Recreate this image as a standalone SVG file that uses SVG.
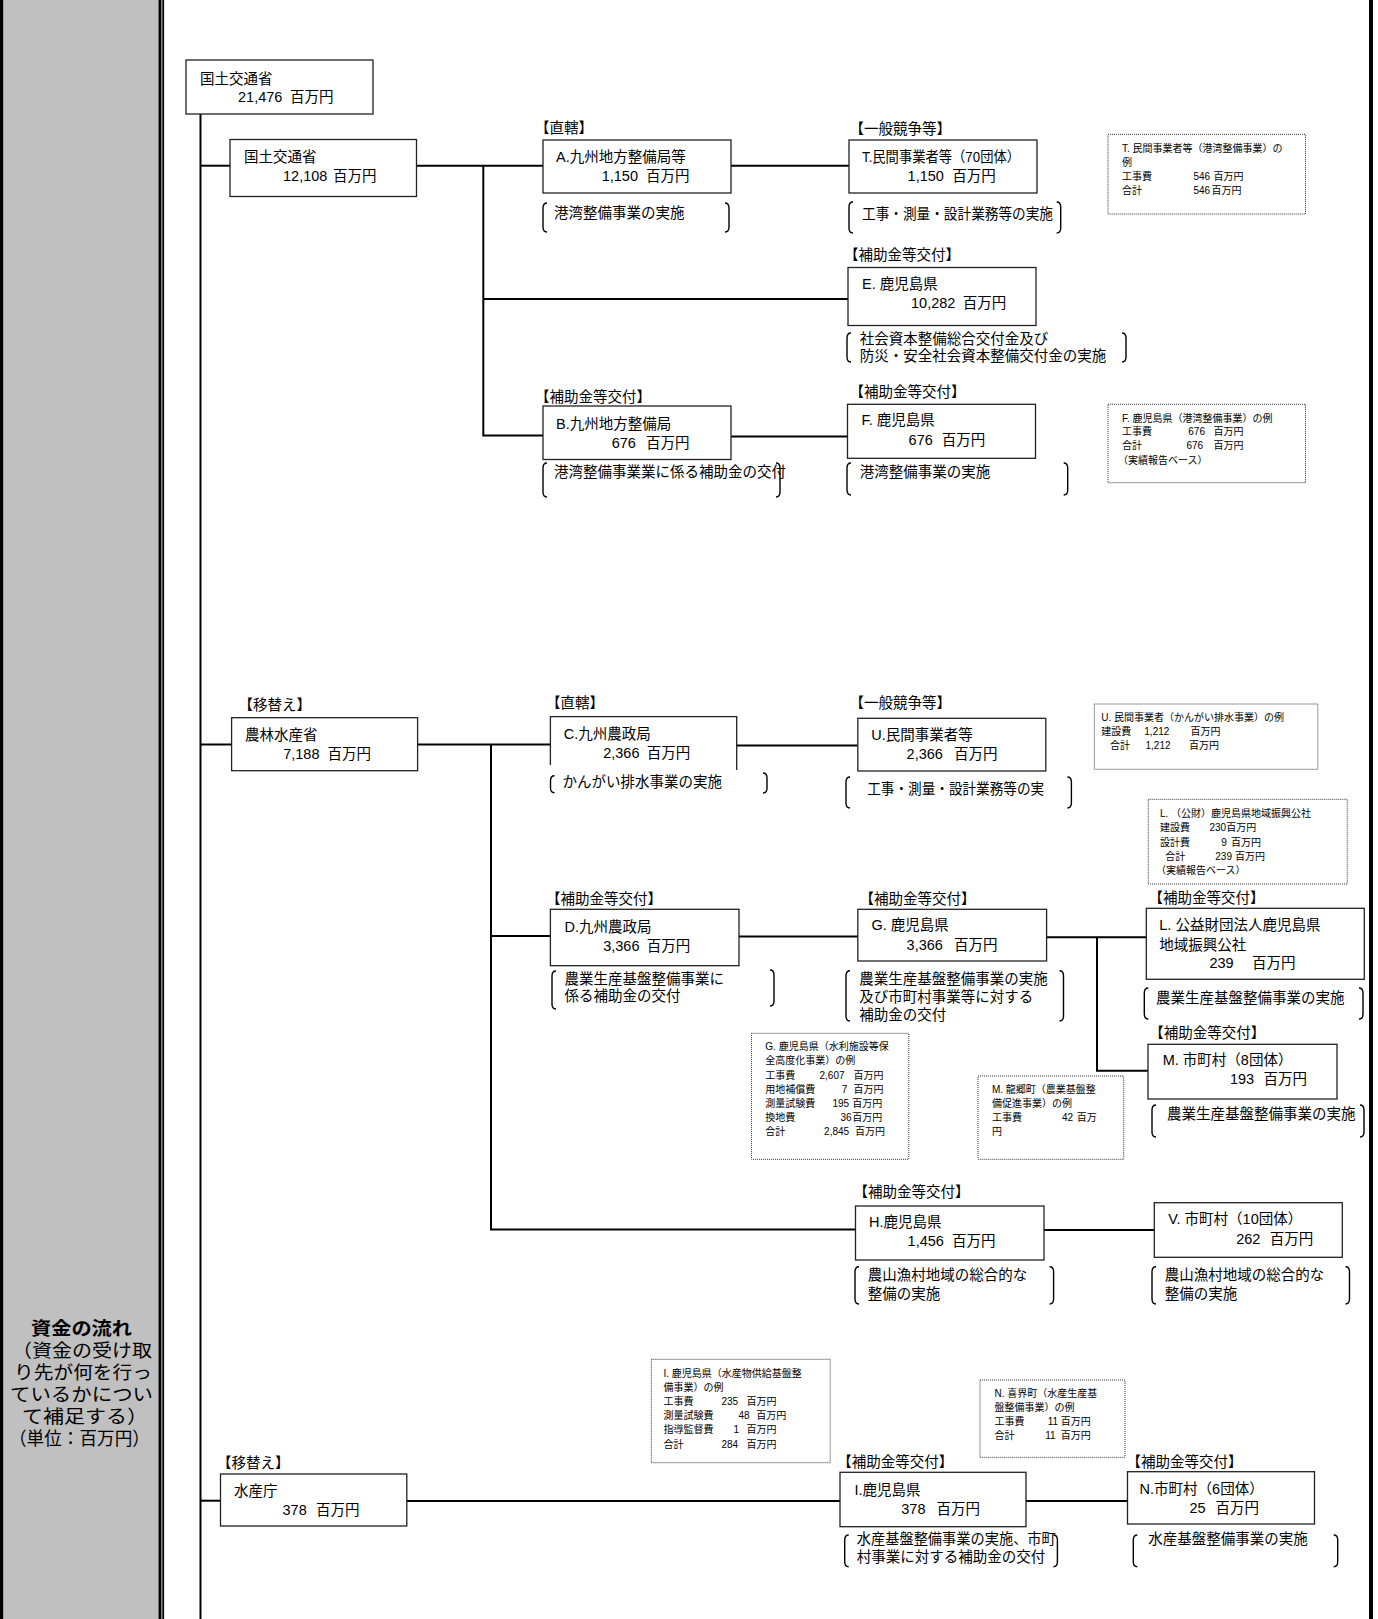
<svg xmlns="http://www.w3.org/2000/svg" width="1378" height="1619" viewBox="0 0 1378 1619">
<style>
text { font-family: "Liberation Sans", "Noto Sans CJK JP", sans-serif; fill: #000; }
.t { font-size: 14.5px; }
.l { font-size: 14.5px; }
.s { font-size: 10px; }
.p { font-size: 18.5px; }
.pb { font-size: 18.5px; font-weight: bold; }
.n { fill: #fff; stroke: #222; stroke-width: 1.3; }
.o { fill: none; stroke: #222; stroke-width: 1.3; }
.d { fill: #fff; stroke: #333; stroke-width: 1; stroke-dasharray: 1 1; }
.c { fill: none; stroke: #000; stroke-width: 2; }
.b { fill: none; stroke: #000; stroke-width: 1.4; }
</style>

<g id="side-panel">
<rect x="0" y="0" width="3.5" height="1619" fill="#000"/>
<rect x="3.5" y="0" width="155" height="1619" fill="#c0c0c0"/>
<rect x="158.5" y="0" width="3" height="1619" fill="#000"/>
<rect x="162.3" y="0" width="1.8" height="1619" fill="#000"/>
<text class="pb" x="31" y="1335" textLength="101" lengthAdjust="spacingAndGlyphs">資金の流れ</text>
<text class="p" x="12" y="1356.5" textLength="140" lengthAdjust="spacingAndGlyphs">（資金の受け取</text>
<text class="p" x="14" y="1378.5" textLength="138" lengthAdjust="spacingAndGlyphs">り先が何を行っ</text>
<text class="p" x="10" y="1401" textLength="143" lengthAdjust="spacingAndGlyphs">ているかについ</text>
<text class="p" x="22" y="1422.5" textLength="126" lengthAdjust="spacingAndGlyphs">て補足する）</text>
<text class="p" x="9" y="1444.5" textLength="141" lengthAdjust="spacingAndGlyphs">（単位：百万円）</text>
</g>
<rect id="right-border" x="1369" y="0" width="4" height="1619" fill="#000"/>

<g id="connectors">
<path class="c" d="M200.5,113 V1619"/>
<path class="c" d="M200.5,165.7 H230"/>
<path class="c" d="M416.5,165.7 H543"/>
<path class="c" d="M483.3,165.7 V435.5 H543"/>
<path class="c" d="M483.3,299 H848"/>
<path class="c" d="M731,165.7 H849"/>
<path class="c" d="M731,436.5 H847.5"/>
<path class="c" d="M200.5,744.5 H231.6"/>
<path class="c" d="M417.6,744.5 H550.4"/>
<path class="c" d="M491,744.5 V1229.5 H855.5"/>
<path class="c" d="M491,936 H550.4"/>
<path class="c" d="M736.7,745.5 H857.8"/>
<path class="c" d="M739,936.5 H857.8"/>
<path class="c" d="M1046.6,937.3 H1146.3"/>
<path class="c" d="M1097,937.3 V1070.7 H1148"/>
<path class="c" d="M1044,1230 H1154.3"/>
<path class="c" d="M200.5,1500.7 H220.5"/>
<path class="c" d="M406.8,1501 H840"/>
<path class="c" d="M1026,1501 H1127.5"/>
</g>

<g id="node-mlit-total">
<rect class="n" x="186" y="60" width="187" height="54"/>
<text class="t" x="200" y="84">国土交通省</text>
<text class="t" y="102"><tspan x="238">21,476</tspan><tspan x="290">百万円</tspan></text>
</g>

<g id="node-mlit">
<rect class="n" x="230" y="139.5" width="186.5" height="57"/>
<text class="t" x="244" y="162">国土交通省</text>
<text class="t" y="180.5"><tspan x="283">12,108</tspan><tspan x="333">百万円</tspan></text>
</g>

<g id="node-A">
<text class="l" x="535" y="133">【直轄】</text>
<rect class="n" x="543" y="140" width="188" height="53"/>
<text class="t" x="556" y="161.5">A.九州地方整備局等</text>
<text class="t" y="181"><tspan x="601.7">1,150</tspan><tspan x="646">百万円</tspan></text>
<path class="b" d="M547,203 Q543,203 543,208 V227 Q543,232 547,232"/>
<path class="b" d="M725,203 Q729,203 729,208 V227 Q729,232 725,232"/>
<text class="t" x="554" y="217.5">港湾整備事業の実施</text>
</g>

<g id="node-T">
<text class="l" x="849.5" y="133.5">【一般競争等】</text>
<rect class="n" x="849" y="140" width="188" height="53"/>
<text class="t" x="862" y="161.5" textLength="158" lengthAdjust="spacingAndGlyphs">T.民間事業者等（70団体）</text>
<text class="t" y="181"><tspan x="907.6">1,150</tspan><tspan x="952.3">百万円</tspan></text>
<path class="b" d="M853,202 Q849,202 849,207 V228 Q849,233 853,233"/>
<path class="b" d="M1056.7,202 Q1060.7,202 1060.7,207 V228 Q1060.7,233 1056.7,233"/>
<text class="t" x="862" y="218.5" textLength="191" lengthAdjust="spacingAndGlyphs">工事・測量・設計業務等の実施</text>
</g>

<g id="note-T">
<rect class="d" x="1108" y="134.3" width="197.5" height="79.7"/>
<text class="s" x="1122" y="151.7">T. 民間事業者等（港湾整備事業）の</text>
<text class="s" x="1122" y="165.7">例</text>
<text class="s" y="180"><tspan x="1122">工事費</tspan><tspan x="1193.5">546</tspan><tspan x="1213.4">百万円</tspan></text>
<text class="s" y="194"><tspan x="1122">合計</tspan><tspan x="1193.5">546</tspan><tspan x="1211.5">百万円</tspan></text>
</g>

<g id="node-E">
<text class="l" x="844" y="260">【補助金等交付】</text>
<rect class="n" x="848" y="267.5" width="188" height="58"/>
<text class="t" x="862" y="288.5">E. 鹿児島県</text>
<text class="t" y="307.5"><tspan x="911">10,282</tspan><tspan x="962.8">百万円</tspan></text>
<path class="b" d="M851,333 Q847,333 847,338 V357 Q847,362 851,362"/>
<path class="b" d="M1122,333 Q1126,333 1126,338 V357 Q1126,362 1122,362"/>
<text class="t" x="859.7" y="344">社会資本整備総合交付金及び</text>
<text class="t" x="859.7" y="361">防災・安全社会資本整備交付金の実施</text>
</g>

<g id="node-B">
<text class="l" x="535" y="402">【補助金等交付】</text>
<rect class="n" x="543" y="406" width="188" height="53.5"/>
<text class="t" x="556" y="428.5">B.九州地方整備局</text>
<text class="t" y="448"><tspan x="611.7">676</tspan><tspan x="646">百万円</tspan></text>
<path class="b" d="M547,463 Q543,463 543,468 V492 Q543,497 547,497"/>
<path class="b" d="M776,463 Q780,463 780,468 V492 Q780,497 776,497"/>
<text class="t" x="554" y="477">港湾整備事業業に係る補助金の交付</text>
</g>

<g id="node-F">
<text class="l" x="849.5" y="397">【補助金等交付】</text>
<rect class="n" x="847.5" y="404.3" width="188" height="54"/>
<text class="t" x="861.5" y="425">F. 鹿児島県</text>
<text class="t" y="445"><tspan x="908.6">676</tspan><tspan x="941.8">百万円</tspan></text>
<path class="b" d="M851,463 Q847,463 847,468 V490 Q847,495 851,495"/>
<path class="b" d="M1063.7,463 Q1067.7,463 1067.7,468 V490 Q1067.7,495 1063.7,495"/>
<text class="t" x="859.7" y="477">港湾整備事業の実施</text>
</g>

<g id="note-F">
<rect class="d" x="1108" y="404.3" width="197.5" height="78.4"/>
<text class="s" x="1122" y="421.7">F. 鹿児島県（港湾整備事業）の例</text>
<text class="s" y="435"><tspan x="1122">工事費</tspan><tspan x="1188.3">676</tspan><tspan x="1213.4">百万円</tspan></text>
<text class="s" y="449.3"><tspan x="1122">合計</tspan><tspan x="1186.5">676</tspan><tspan x="1213.4">百万円</tspan></text>
<text class="s" x="1118" y="464.3">（実績報告ベース）</text>
</g>

<g id="node-maff">
<text class="l" x="238.4" y="710">【移替え】</text>
<rect class="n" x="231.6" y="717.7" width="186" height="53"/>
<text class="t" x="245" y="740">農林水産省</text>
<text class="t" y="759"><tspan x="283.2">7,188</tspan><tspan x="327.6">百万円</tspan></text>
</g>

<g id="node-C">
<text class="l" x="546" y="708.3">【直轄】</text>
<rect x="550.4" y="716.7" width="186.3" height="54" fill="#fff"/>
<path class="o" d="M550.4,765 V716.7 H736.7 V770"/>
<text class="t" x="563.7" y="738.5">C.九州農政局</text>
<text class="t" y="757.5"><tspan x="603.2">2,366</tspan><tspan x="646.8">百万円</tspan></text>
<path class="b" d="M554.5,775.7 Q550.5,775.7 550.5,780.7 V787.7 Q550.5,792.7 554.5,792.7"/>
<path class="b" d="M763,773 Q767,773 767,778 V788 Q767,793 763,793"/>
<text class="t" x="562.6" y="787">かんがい排水事業の実施</text>
</g>

<g id="node-U">
<text class="l" x="849.6" y="708.3">【一般競争等】</text>
<rect class="n" x="857.8" y="718.3" width="188" height="52.7"/>
<text class="t" x="871.2" y="739.5">U.民間事業者等</text>
<text class="t" y="759"><tspan x="906.6">2,366</tspan><tspan x="953.9">百万円</tspan></text>
<path class="b" d="M850,777 Q846,777 846,782 V803 Q846,808 850,808"/>
<path class="b" d="M1067.4,777 Q1071.4,777 1071.4,782 V803 Q1071.4,808 1067.4,808"/>
<text class="t" x="867.2" y="793.5" textLength="177" lengthAdjust="spacingAndGlyphs">工事・測量・設計業務等の実</text>
</g>

<g id="note-U">
<rect class="d" x="1094.3" y="704" width="223.5" height="65.3"/>
<text class="s" x="1101.3" y="720.7">U. 民間事業者（かんがい排水事業）の例</text>
<text class="s" y="735"><tspan x="1101.3">建設費</tspan><tspan x="1144.3">1,212</tspan><tspan x="1190.4">百万円</tspan></text>
<text class="s" y="749"><tspan x="1110">合計</tspan><tspan x="1145.5">1,212</tspan><tspan x="1188.9">百万円</tspan></text>
</g>

<g id="note-L">
<rect class="d" x="1148.3" y="799.3" width="199" height="84.7"/>
<text class="s" x="1160" y="816.7">L. （公財）鹿児島県地域振興公社</text>
<text class="s" y="830.7"><tspan x="1160">建設費</tspan><tspan x="1209.4">230</tspan><tspan x="1226.3">百万円</tspan></text>
<text class="s" y="846"><tspan x="1160">設計費</tspan><tspan x="1221.2">9</tspan><tspan x="1231">百万円</tspan></text>
<text class="s" y="860"><tspan x="1165.2">合計</tspan><tspan x="1215.3">239</tspan><tspan x="1235">百万円</tspan></text>
<text class="s" x="1156" y="874.3">（実績報告ベース）</text>
</g>

<g id="node-D">
<text class="l" x="546" y="904">【補助金等交付】</text>
<rect class="n" x="550.4" y="909.3" width="188.6" height="56.4"/>
<text class="t" x="564.5" y="931.7">D.九州農政局</text>
<text class="t" y="951"><tspan x="603.2">3,366</tspan><tspan x="646.8">百万円</tspan></text>
<path class="b" d="M556,971 Q552,971 552,976 V1004 Q552,1009 556,1009"/>
<path class="b" d="M770,970 Q774,970 774,975 V1001 Q774,1006 770,1006"/>
<text class="t" x="564.5" y="983.5">農業生産基盤整備事業に</text>
<text class="t" x="564.5" y="1001">係る補助金の交付</text>
</g>

<g id="node-G">
<text class="l" x="859.5" y="904">【補助金等交付】</text>
<rect class="n" x="857.8" y="909.3" width="188.8" height="51.7"/>
<text class="t" x="871.5" y="930">G. 鹿児島県</text>
<text class="t" y="950"><tspan x="906.6">3,366</tspan><tspan x="953.9">百万円</tspan></text>
<path class="b" d="M850,970.7 Q846,970.7 846,975.7 V1016 Q846,1021 850,1021"/>
<path class="b" d="M1059.5,970.7 Q1063.5,970.7 1063.5,975.7 V1016 Q1063.5,1021 1059.5,1021"/>
<text class="t" x="859.3" y="984">農業生産基盤整備事業の実施</text>
<text class="t" x="859.3" y="1002.3">及び市町村事業等に対する</text>
<text class="t" x="859.3" y="1020">補助金の交付</text>
</g>

<g id="node-L">
<text class="l" x="1148.4" y="902.7">【補助金等交付】</text>
<rect class="n" x="1146.3" y="908.3" width="218" height="71"/>
<text class="t" x="1159.3" y="929.5">L. 公益財団法人鹿児島県</text>
<text class="t" x="1159.3" y="949.5">地域振興公社</text>
<text class="t" y="967.5"><tspan x="1209.4">239</tspan><tspan x="1251.9">百万円</tspan></text>
<path class="b" d="M1148.3,988 Q1144.3,988 1144.3,993 V1014 Q1144.3,1019 1148.3,1019"/>
<path class="b" d="M1359,988 Q1363,988 1363,993 V1014 Q1363,1019 1359,1019"/>
<text class="t" x="1156" y="1002.5">農業生産基盤整備事業の実施</text>
</g>

<g id="node-M">
<text class="l" x="1149.3" y="1037.7">【補助金等交付】</text>
<rect class="n" x="1148" y="1044.3" width="189" height="54.7"/>
<text class="t" x="1162.7" y="1065">M. 市町村（8団体）</text>
<text class="t" y="1084"><tspan x="1229.9">193</tspan><tspan x="1263.4">百万円</tspan></text>
<path class="b" d="M1156,1105 Q1152,1105 1152,1110 V1132 Q1152,1137 1156,1137"/>
<path class="b" d="M1360,1105 Q1364,1105 1364,1110 V1132 Q1364,1137 1360,1137"/>
<text class="t" x="1167" y="1118.5">農業生産基盤整備事業の実施</text>
</g>

<g id="note-G">
<rect class="d" x="751.5" y="1033.3" width="157.3" height="126"/>
<text class="s" x="765.3" y="1050">G. 鹿児島県（水利施設等保</text>
<text class="s" x="765.3" y="1064.3">全高度化事業）の例</text>
<text class="s" y="1079"><tspan x="765.3">工事費</tspan><tspan x="819.5">2,607</tspan><tspan x="853.4">百万円</tspan></text>
<text class="s" y="1092.7"><tspan x="765.3">用地補償費</tspan><tspan x="841.7">7</tspan><tspan x="853.4">百万円</tspan></text>
<text class="s" y="1106.7"><tspan x="765.3">測量試験費</tspan><tspan x="832.5">195</tspan><tspan x="852.2">百万円</tspan></text>
<text class="s" y="1120.7"><tspan x="765.3">換地費</tspan><tspan x="840.4">36</tspan><tspan x="852.2">百万円</tspan></text>
<text class="s" y="1135"><tspan x="765.3">合計</tspan><tspan x="824.1">2,845</tspan><tspan x="855.1">百万円</tspan></text>
</g>

<g id="note-M">
<rect class="d" x="978" y="1076" width="145.7" height="83.3"/>
<text class="s" x="991.9" y="1093.3">M. 龍郷町（農業基盤整</text>
<text class="s" x="991.9" y="1106.7">備促進事業）の例</text>
<text class="s" y="1120.7"><tspan x="991.9">工事費</tspan><tspan x="1062">42</tspan><tspan x="1076.7">百万</tspan></text>
<text class="s" x="991.9" y="1135">円</text>
</g>

<g id="node-H">
<text class="l" x="853.5" y="1196.7">【補助金等交付】</text>
<rect class="n" x="855.5" y="1206" width="188.5" height="54"/>
<text class="t" x="869" y="1227">H.鹿児島県</text>
<text class="t" y="1246"><tspan x="907.6">1,456</tspan><tspan x="952">百万円</tspan></text>
<path class="b" d="M859,1266.7 Q855,1266.7 855,1271.7 V1299 Q855,1304 859,1304"/>
<path class="b" d="M1049.6,1266.7 Q1053.6,1266.7 1053.6,1271.7 V1299 Q1053.6,1304 1049.6,1304"/>
<text class="t" x="867.7" y="1280">農山漁村地域の総合的な</text>
<text class="t" x="867.7" y="1298.5">整備の実施</text>
</g>

<g id="node-V">
<rect class="n" x="1154.3" y="1202.7" width="188" height="54.6"/>
<text class="t" x="1168.2" y="1224">V. 市町村（10団体）</text>
<text class="t" y="1243.5"><tspan x="1236.2">262</tspan><tspan x="1269.7">百万円</tspan></text>
<path class="b" d="M1156,1266.7 Q1152,1266.7 1152,1271.7 V1299 Q1152,1304 1156,1304"/>
<path class="b" d="M1345.5,1266.7 Q1349.5,1266.7 1349.5,1271.7 V1299 Q1349.5,1304 1345.5,1304"/>
<text class="t" x="1164.8" y="1280">農山漁村地域の総合的な</text>
<text class="t" x="1164.8" y="1298.5">整備の実施</text>
</g>

<g id="note-I">
<rect class="d" x="651.4" y="1359.3" width="178.8" height="103.4"/>
<text class="s" x="663.5" y="1376.7">I. 鹿児島県（水産物供給基盤整</text>
<text class="s" x="663.5" y="1390.7">備事業）の例</text>
<text class="s" y="1405"><tspan x="663.5">工事費</tspan><tspan x="721.5">235</tspan><tspan x="746.6">百万円</tspan></text>
<text class="s" y="1419"><tspan x="663.5">測量試験費</tspan><tspan x="738.4">48</tspan><tspan x="756.3">百万円</tspan></text>
<text class="s" y="1433.3"><tspan x="663.5">指導監督費</tspan><tspan x="733.6">1</tspan><tspan x="746.6">百万円</tspan></text>
<text class="s" y="1447.7"><tspan x="663.5">合計</tspan><tspan x="721.5">284</tspan><tspan x="746.6">百万円</tspan></text>
</g>

<g id="note-N">
<rect class="d" x="980" y="1380" width="145" height="77.3"/>
<text class="s" x="994.6" y="1396.7">N. 喜界町（水産生産基</text>
<text class="s" x="994.6" y="1410.7">盤整備事業）の例</text>
<text class="s" y="1425"><tspan x="994.6">工事費</tspan><tspan x="1047.7">11</tspan><tspan x="1060.8">百万円</tspan></text>
<text class="s" y="1439.3"><tspan x="994.6">合計</tspan><tspan x="1045.3">11</tspan><tspan x="1060.8">百万円</tspan></text>
</g>

<g id="node-jfa">
<text class="l" x="217" y="1468.3">【移替え】</text>
<rect class="n" x="220.5" y="1474" width="186.3" height="52"/>
<text class="t" x="234" y="1496">水産庁</text>
<text class="t" y="1515"><tspan x="282.5">378</tspan><tspan x="316.1">百万円</tspan></text>
</g>

<g id="node-I">
<text class="l" x="837.3" y="1466.7">【補助金等交付】</text>
<rect class="n" x="840" y="1472.3" width="186" height="54.4"/>
<text class="t" x="854.4" y="1495">I.鹿児島県</text>
<text class="t" y="1514"><tspan x="901.3">378</tspan><tspan x="936.6">百万円</tspan></text>
<path class="b" d="M848.7,1535 Q844.7,1535 844.7,1540 V1561.7 Q844.7,1566.7 848.7,1566.7"/>
<path class="b" d="M1053.4,1535 Q1057.4,1535 1057.4,1540 V1561.7 Q1057.4,1566.7 1053.4,1566.7"/>
<text class="t" x="856.8" y="1544" textLength="199" lengthAdjust="spacingAndGlyphs">水産基盤整備事業の実施、市町</text>
<text class="t" x="856.8" y="1562">村事業に対する補助金の交付</text>
</g>

<g id="node-N">
<text class="l" x="1126.4" y="1466.7">【補助金等交付】</text>
<rect class="n" x="1127.5" y="1471.7" width="187" height="52.3"/>
<text class="t" x="1139.6" y="1494">N.市町村（6団体）</text>
<text class="t" y="1513"><tspan x="1189.4">25</tspan><tspan x="1215.4">百万円</tspan></text>
<path class="b" d="M1137.3,1535 Q1133.3,1535 1133.3,1540 V1561.7 Q1133.3,1566.7 1137.3,1566.7"/>
<path class="b" d="M1333.7,1535 Q1337.7,1535 1337.7,1540 V1561.7 Q1337.7,1566.7 1333.7,1566.7"/>
<text class="t" x="1148.3" y="1544">水産基盤整備事業の実施</text>
</g>
</svg>
